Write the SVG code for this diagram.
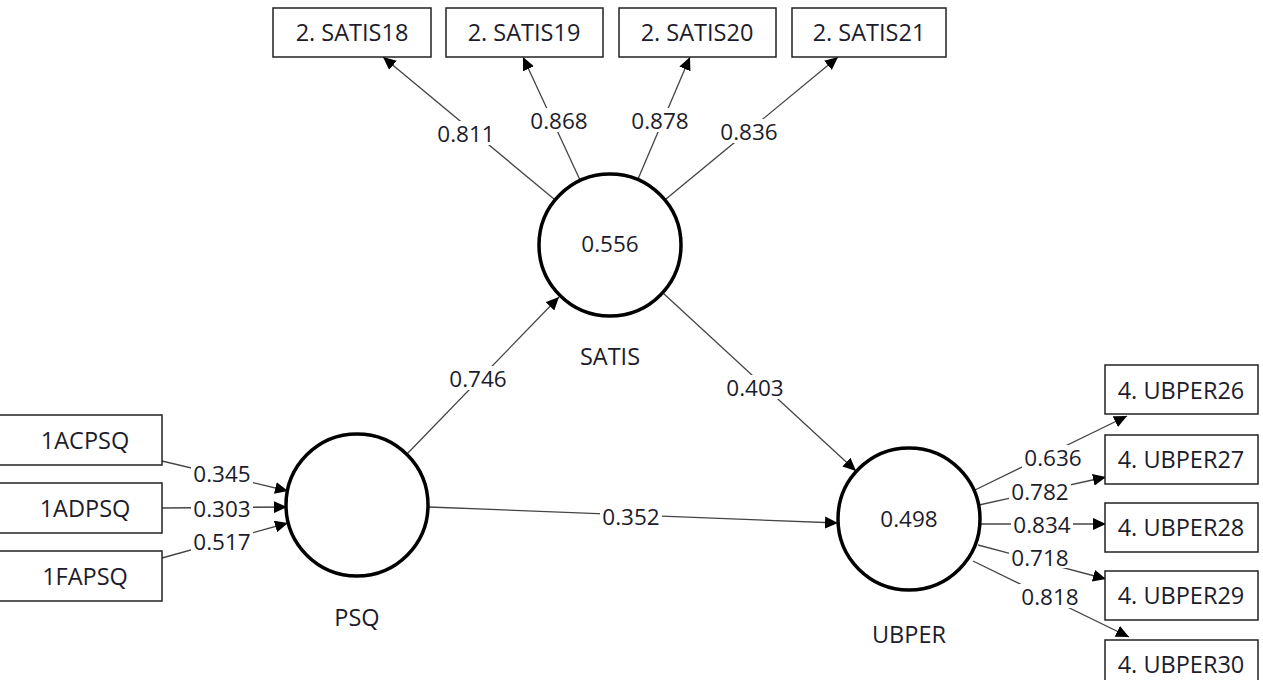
<svg xmlns="http://www.w3.org/2000/svg" width="1263" height="680" viewBox="0 0 1263 680">
<style>
text{font-family:"Open Sans","Noto Sans","Liberation Sans",sans-serif;font-size:23.5px;fill:#1c1c2c;text-anchor:middle;dominant-baseline:central}
text.n{font-size:22.5px}
.box{fill:#fff;stroke:#222;stroke-width:1.5}
.lv{fill:#fff;stroke:#000;stroke-width:3.5}
.edge{stroke:#444;stroke-width:1.3;fill:none;marker-end:url(#arr)}
.lbg{fill:#fff}
</style>
<defs>
<marker id="arr" markerUnits="userSpaceOnUse" markerWidth="14" markerHeight="12" refX="13" refY="6" orient="auto">
<path d="M0,0 L13,6 L0,12 Z" fill="#000"/>
</marker>
</defs>
<rect width="1263" height="680" fill="#fff"/>
<g id="connectors">
<line class="edge" x1="554" y1="199" x2="383" y2="57"/>
<line class="edge" x1="580" y1="180" x2="523" y2="57"/>
<line class="edge" x1="638" y1="179" x2="690" y2="57"/>
<line class="edge" x1="666" y1="199" x2="838" y2="57"/>
<line class="edge" x1="407" y1="454" x2="559" y2="297"/>
<line class="edge" x1="663" y1="293" x2="856" y2="471"/>
<line class="edge" x1="429" y1="507" x2="838" y2="523"/>
<line class="edge" x1="162" y1="461" x2="288" y2="491"/>
<line class="edge" x1="162" y1="508" x2="287" y2="507"/>
<line class="edge" x1="162" y1="558" x2="288" y2="523"/>
<line class="edge" x1="975" y1="490" x2="1127" y2="416"/>
<line class="edge" x1="979" y1="505" x2="1106" y2="477"/>
<line class="edge" x1="980" y1="524" x2="1106" y2="524"/>
<line class="edge" x1="978" y1="545" x2="1106" y2="579"/>
<line class="edge" x1="973" y1="561" x2="1129" y2="637"/>
<g id="edge-labels">
<rect class="lbg" x="437" y="121" width="58" height="24"/><text class="n" x="466" y="133">0.811</text>
<rect class="lbg" x="528" y="108" width="62" height="24"/><text class="n" x="559" y="120">0.868</text>
<rect class="lbg" x="629" y="108" width="62" height="24"/><text class="n" x="660" y="120">0.878</text>
<rect class="lbg" x="718" y="119" width="62" height="24"/><text class="n" x="749" y="131">0.836</text>
<rect class="lbg" x="447" y="366" width="62" height="24"/><text class="n" x="478" y="378">0.746</text>
<rect class="lbg" x="724" y="375" width="62" height="24"/><text class="n" x="755" y="387">0.403</text>
<rect class="lbg" x="600" y="504" width="62" height="24"/><text class="n" x="631" y="516">0.352</text>
<rect class="lbg" x="191" y="463" width="62" height="22"/><text class="n" x="222" y="473">0.345</text>
<rect class="lbg" x="191" y="497" width="62" height="22"/><text class="n" x="222" y="508">0.303</text>
<rect class="lbg" x="191" y="530" width="62" height="22"/><text class="n" x="222" y="541">0.517</text>
<rect class="lbg" x="1022" y="445" width="62" height="24"/><text class="n" x="1053" y="457">0.636</text>
<rect class="lbg" x="1009" y="480" width="62" height="22"/><text class="n" x="1040" y="491">0.782</text>
<rect class="lbg" x="1011" y="513" width="62" height="22"/><text class="n" x="1042" y="524">0.834</text>
<rect class="lbg" x="1009" y="546" width="62" height="22"/><text class="n" x="1040" y="557">0.718</text>
<rect class="lbg" x="1019" y="584" width="62" height="24"/><text class="n" x="1050" y="596">0.818</text>
</g>
</g>
<g id="SATIS18"><rect class="box" x="273" y="8" width="158" height="49"/><text x="352" y="32">2. SATIS18</text></g>
<g id="SATIS19"><rect class="box" x="446" y="8" width="157" height="49"/><text x="524" y="32">2. SATIS19</text></g>
<g id="SATIS20"><rect class="box" x="619" y="8" width="157" height="49"/><text x="697" y="32">2. SATIS20</text></g>
<g id="SATIS21"><rect class="box" x="792" y="8" width="154" height="49"/><text x="869" y="32">2. SATIS21</text></g>
<g id="ACPSQ"><rect class="box" x="-5" y="415" width="167" height="50"/><text x="85" y="440">1ACPSQ</text></g>
<g id="ADPSQ"><rect class="box" x="-5" y="483" width="167" height="50"/><text x="85" y="508">1ADPSQ</text></g>
<g id="FAPSQ"><rect class="box" x="-5" y="551" width="167" height="50"/><text x="85" y="576">1FAPSQ</text></g>
<g id="UBPER26"><rect class="box" x="1105" y="365" width="153" height="49"/><text x="1181" y="390">4. UBPER26</text></g>
<g id="UBPER27"><rect class="box" x="1105" y="435" width="153" height="49"/><text x="1181" y="459">4. UBPER27</text></g>
<g id="UBPER28"><rect class="box" x="1105" y="503" width="153" height="49"/><text x="1181" y="527">4. UBPER28</text></g>
<g id="UBPER29"><rect class="box" x="1105" y="571" width="153" height="49"/><text x="1181" y="595">4. UBPER29</text></g>
<g id="UBPER30"><rect class="box" x="1105" y="640" width="153" height="49"/><text x="1181" y="664">4. UBPER30</text></g>
<g id="SATIS"><circle class="lv" cx="610" cy="245" r="71"/><text class="n" x="610" y="243">0.556</text><text x="610" y="356">SATIS</text></g>
<g id="PSQ"><circle class="lv" cx="357" cy="505" r="71"/><text x="357" y="617">PSQ</text></g>
<g id="UBPER"><circle class="lv" cx="909" cy="519" r="71"/><text class="n" x="909" y="518">0.498</text><text x="909" y="634">UBPER</text></g>
</svg>
